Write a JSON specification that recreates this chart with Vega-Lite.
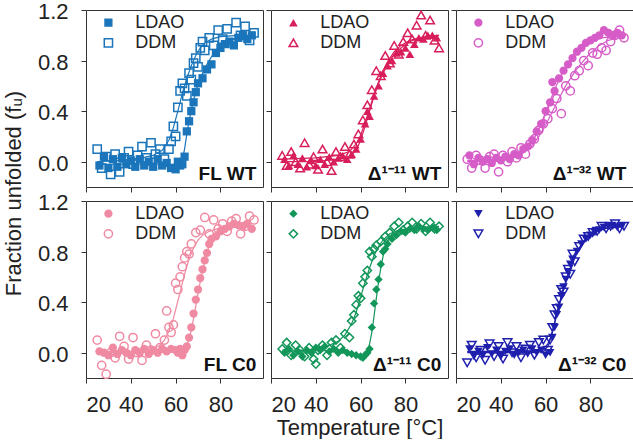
{
"$schema": "https://vega.github.io/schema/vega-lite/v6.json",
"background": "white",
"padding": {"left": 1, "top": 0, "right": 0, "bottom": 0},
"columns": 3,
"bounds": "flush",
"spacing": {"row": 14, "column": 8},
"config": {
  "view": {"stroke": "#333", "strokeWidth": 1},
  "axis": {"grid": false, "domain": false, "tickSize": 5, "tickColor": "#333", "tickWidth": 1, "labelFont": "Liberation Sans", "labelFontSize": 22, "labelColor": "#222", "titleFont": "Liberation Sans", "titleFontSize": 22, "titleFontWeight": "normal", "titleColor": "#222"},
  "axisX": {"labelPadding": 11, "titlePadding": 2},
  "axisY": {"labelPadding": 13, "titlePadding": 12, "labelOffset": 1.5}
},
"datasets": {
"pts": [
{"p":"A","d":"L","t":26,"f":-0.03},{"p":"A","d":"L","t":28,"f":0.04},{"p":"A","d":"L","t":30,"f":-0.05},{"p":"A","d":"L","t":32,"f":0.02},{"p":"A","d":"L","t":34,"f":-0.04},{"p":"A","d":"L","t":36,"f":0.03},{"p":"A","d":"L","t":38,"f":-0.02},{"p":"A","d":"L","t":40,"f":0.01},{"p":"A","d":"L","t":42,"f":-0.04},{"p":"A","d":"L","t":44,"f":0.02},{"p":"A","d":"L","t":46,"f":-0.03},{"p":"A","d":"L","t":48,"f":0.0},{"p":"A","d":"L","t":50,"f":-0.04},{"p":"A","d":"L","t":52,"f":0.02},{"p":"A","d":"L","t":54,"f":-0.03},{"p":"A","d":"L","t":56,"f":-0.01},{"p":"A","d":"L","t":58,"f":-0.05},{"p":"A","d":"L","t":60,"f":-0.06},{"p":"A","d":"L","t":61,"f":0.0},{"p":"A","d":"L","t":62,"f":-0.03},{"p":"A","d":"L","t":63,"f":-0.02},{"p":"A","d":"L","t":64,"f":0.04},{"p":"A","d":"L","t":65,"f":0.24},{"p":"A","d":"L","t":66,"f":0.32},{"p":"A","d":"L","t":67,"f":0.4},{"p":"A","d":"L","t":68,"f":0.47},{"p":"A","d":"L","t":69,"f":0.55},{"p":"A","d":"L","t":70,"f":0.62},{"p":"A","d":"L","t":72,"f":0.66},{"p":"A","d":"L","t":74,"f":0.73},{"p":"A","d":"L","t":76,"f":0.77},{"p":"A","d":"L","t":78,"f":0.86},{"p":"A","d":"L","t":80,"f":0.9},{"p":"A","d":"L","t":82,"f":0.93},{"p":"A","d":"L","t":84,"f":0.95},{"p":"A","d":"L","t":86,"f":0.92},{"p":"A","d":"L","t":88,"f":0.98},{"p":"A","d":"L","t":90,"f":1.0},{"p":"A","d":"L","t":92,"f":0.97},{"p":"A","d":"L","t":94,"f":1.0},
{"p":"A","d":"D","t":25,"f":0.1},{"p":"A","d":"D","t":27,"f":-0.05},{"p":"A","d":"D","t":29,"f":0.04},{"p":"A","d":"D","t":31,"f":-0.1},{"p":"A","d":"D","t":33,"f":0.06},{"p":"A","d":"D","t":35,"f":-0.08},{"p":"A","d":"D","t":37,"f":0.03},{"p":"A","d":"D","t":39,"f":0.08},{"p":"A","d":"D","t":41,"f":-0.02},{"p":"A","d":"D","t":43,"f":0.05},{"p":"A","d":"D","t":45,"f":0.12},{"p":"A","d":"D","t":47,"f":0.03},{"p":"A","d":"D","t":49,"f":0.15},{"p":"A","d":"D","t":51,"f":0.06},{"p":"A","d":"D","t":53,"f":0.1},{"p":"A","d":"D","t":55,"f":0.02},{"p":"A","d":"D","t":57,"f":0.1},{"p":"A","d":"D","t":58,"f":0.16},{"p":"A","d":"D","t":59,"f":0.28},{"p":"A","d":"D","t":60,"f":0.2},{"p":"A","d":"D","t":61,"f":0.43},{"p":"A","d":"D","t":62,"f":0.56},{"p":"A","d":"D","t":63,"f":0.62},{"p":"A","d":"D","t":64,"f":0.58},{"p":"A","d":"D","t":65,"f":0.52},{"p":"A","d":"D","t":66,"f":0.7},{"p":"A","d":"D","t":67,"f":0.65},{"p":"A","d":"D","t":68,"f":0.78},{"p":"A","d":"D","t":69,"f":0.82},{"p":"A","d":"D","t":70,"f":0.75},{"p":"A","d":"D","t":71,"f":0.9},{"p":"A","d":"D","t":72,"f":0.95},{"p":"A","d":"D","t":73,"f":0.88},{"p":"A","d":"D","t":75,"f":0.98},{"p":"A","d":"D","t":77,"f":0.92},{"p":"A","d":"D","t":79,"f":1.04},{"p":"A","d":"D","t":81,"f":0.97},{"p":"A","d":"D","t":83,"f":1.05},{"p":"A","d":"D","t":85,"f":0.94},{"p":"A","d":"D","t":87,"f":1.1},{"p":"A","d":"D","t":89,"f":1.0},{"p":"A","d":"D","t":91,"f":1.07},{"p":"A","d":"D","t":93,"f":0.96},{"p":"A","d":"D","t":95,"f":1.02},
{"p":"B","d":"L","t":26,"f":0.02},{"p":"B","d":"L","t":28,"f":-0.03},{"p":"B","d":"L","t":30,"f":0.05},{"p":"B","d":"L","t":32,"f":-0.02},{"p":"B","d":"L","t":34,"f":0.03},{"p":"B","d":"L","t":36,"f":-0.04},{"p":"B","d":"L","t":38,"f":0.01},{"p":"B","d":"L","t":40,"f":-0.03},{"p":"B","d":"L","t":42,"f":0.02},{"p":"B","d":"L","t":44,"f":-0.02},{"p":"B","d":"L","t":46,"f":0.04},{"p":"B","d":"L","t":48,"f":0.0},{"p":"B","d":"L","t":50,"f":0.03},{"p":"B","d":"L","t":52,"f":0.05},{"p":"B","d":"L","t":54,"f":0.02},{"p":"B","d":"L","t":56,"f":0.06},{"p":"B","d":"L","t":58,"f":0.1},{"p":"B","d":"L","t":60,"f":0.18},{"p":"B","d":"L","t":62,"f":0.3},{"p":"B","d":"L","t":63,"f":0.4},{"p":"B","d":"L","t":64,"f":0.36},{"p":"B","d":"L","t":66,"f":0.52},{"p":"B","d":"L","t":68,"f":0.6},{"p":"B","d":"L","t":70,"f":0.7},{"p":"B","d":"L","t":72,"f":0.76},{"p":"B","d":"L","t":74,"f":0.8},{"p":"B","d":"L","t":76,"f":0.86},{"p":"B","d":"L","t":78,"f":0.87},{"p":"B","d":"L","t":80,"f":0.9},{"p":"B","d":"L","t":82,"f":0.85},{"p":"B","d":"L","t":84,"f":0.93},{"p":"B","d":"L","t":86,"f":0.98},{"p":"B","d":"L","t":88,"f":0.97},{"p":"B","d":"L","t":90,"f":1.0},{"p":"B","d":"L","t":92,"f":1.0},{"p":"B","d":"L","t":94,"f":0.98},
{"p":"B","d":"D","t":25,"f":0.05},{"p":"B","d":"D","t":27,"f":-0.03},{"p":"B","d":"D","t":29,"f":0.08},{"p":"B","d":"D","t":31,"f":0.0},{"p":"B","d":"D","t":33,"f":-0.05},{"p":"B","d":"D","t":35,"f":0.15},{"p":"B","d":"D","t":37,"f":-0.02},{"p":"B","d":"D","t":39,"f":0.04},{"p":"B","d":"D","t":41,"f":-0.06},{"p":"B","d":"D","t":43,"f":0.1},{"p":"B","d":"D","t":45,"f":0.0},{"p":"B","d":"D","t":47,"f":-0.07},{"p":"B","d":"D","t":49,"f":0.08},{"p":"B","d":"D","t":51,"f":0.04},{"p":"B","d":"D","t":53,"f":0.12},{"p":"B","d":"D","t":55,"f":0.06},{"p":"B","d":"D","t":57,"f":0.14},{"p":"B","d":"D","t":59,"f":0.22},{"p":"B","d":"D","t":61,"f":0.33},{"p":"B","d":"D","t":63,"f":0.45},{"p":"B","d":"D","t":65,"f":0.57},{"p":"B","d":"D","t":67,"f":0.72},{"p":"B","d":"D","t":69,"f":0.68},{"p":"B","d":"D","t":71,"f":0.84},{"p":"B","d":"D","t":73,"f":0.78},{"p":"B","d":"D","t":75,"f":0.92},{"p":"B","d":"D","t":77,"f":0.85},{"p":"B","d":"D","t":79,"f":0.95},{"p":"B","d":"D","t":81,"f":1.02},{"p":"B","d":"D","t":83,"f":0.97},{"p":"B","d":"D","t":85,"f":1.08},{"p":"B","d":"D","t":87,"f":1.16},{"p":"B","d":"D","t":89,"f":1.0},{"p":"B","d":"D","t":91,"f":1.12},{"p":"B","d":"D","t":93,"f":0.96},{"p":"B","d":"D","t":95,"f":0.9},
{"p":"C","d":"L","t":26,"f":0.05},{"p":"C","d":"L","t":28,"f":-0.02},{"p":"C","d":"L","t":30,"f":0.03},{"p":"C","d":"L","t":32,"f":0.0},{"p":"C","d":"L","t":34,"f":0.02},{"p":"C","d":"L","t":36,"f":-0.01},{"p":"C","d":"L","t":38,"f":0.03},{"p":"C","d":"L","t":40,"f":0.01},{"p":"C","d":"L","t":42,"f":0.04},{"p":"C","d":"L","t":44,"f":0.02},{"p":"C","d":"L","t":46,"f":0.06},{"p":"C","d":"L","t":48,"f":0.05},{"p":"C","d":"L","t":50,"f":0.1},{"p":"C","d":"L","t":52,"f":0.12},{"p":"C","d":"L","t":54,"f":0.17},{"p":"C","d":"L","t":56,"f":0.24},{"p":"C","d":"L","t":58,"f":0.3},{"p":"C","d":"L","t":60,"f":0.4},{"p":"C","d":"L","t":62,"f":0.47},{"p":"C","d":"L","t":63,"f":0.63},{"p":"C","d":"L","t":64,"f":0.56},{"p":"C","d":"L","t":66,"f":0.66},{"p":"C","d":"L","t":68,"f":0.72},{"p":"C","d":"L","t":70,"f":0.77},{"p":"C","d":"L","t":72,"f":0.82},{"p":"C","d":"L","t":74,"f":0.87},{"p":"C","d":"L","t":76,"f":0.9},{"p":"C","d":"L","t":78,"f":0.94},{"p":"C","d":"L","t":80,"f":0.96},{"p":"C","d":"L","t":82,"f":0.98},{"p":"C","d":"L","t":84,"f":1.0},{"p":"C","d":"L","t":86,"f":1.04},{"p":"C","d":"L","t":88,"f":1.02},{"p":"C","d":"L","t":90,"f":1.0},{"p":"C","d":"L","t":92,"f":1.02},{"p":"C","d":"L","t":94,"f":1.0},
{"p":"C","d":"D","t":25,"f":0.02},{"p":"C","d":"D","t":27,"f":-0.05},{"p":"C","d":"D","t":29,"f":0.05},{"p":"C","d":"D","t":31,"f":0.01},{"p":"C","d":"D","t":33,"f":-0.05},{"p":"C","d":"D","t":35,"f":0.04},{"p":"C","d":"D","t":37,"f":0.06},{"p":"C","d":"D","t":39,"f":-0.08},{"p":"C","d":"D","t":41,"f":0.05},{"p":"C","d":"D","t":43,"f":0.0},{"p":"C","d":"D","t":45,"f":0.08},{"p":"C","d":"D","t":47,"f":0.03},{"p":"C","d":"D","t":49,"f":0.11},{"p":"C","d":"D","t":51,"f":0.06},{"p":"C","d":"D","t":53,"f":0.14},{"p":"C","d":"D","t":55,"f":0.18},{"p":"C","d":"D","t":57,"f":0.25},{"p":"C","d":"D","t":59,"f":0.3},{"p":"C","d":"D","t":61,"f":0.34},{"p":"C","d":"D","t":63,"f":0.42},{"p":"C","d":"D","t":65,"f":0.5},{"p":"C","d":"D","t":67,"f":0.38},{"p":"C","d":"D","t":69,"f":0.6},{"p":"C","d":"D","t":71,"f":0.56},{"p":"C","d":"D","t":73,"f":0.68},{"p":"C","d":"D","t":75,"f":0.72},{"p":"C","d":"D","t":77,"f":0.8},{"p":"C","d":"D","t":79,"f":0.76},{"p":"C","d":"D","t":81,"f":0.86},{"p":"C","d":"D","t":83,"f":0.85},{"p":"C","d":"D","t":85,"f":0.9},{"p":"C","d":"D","t":87,"f":0.88},{"p":"C","d":"D","t":89,"f":0.95},{"p":"C","d":"D","t":91,"f":1.0},{"p":"C","d":"D","t":93,"f":1.04},{"p":"C","d":"D","t":95,"f":0.98},
{"p":"D","d":"L","t":26,"f":0.01},{"p":"D","d":"L","t":28,"f":0.0},{"p":"D","d":"L","t":30,"f":-0.02},{"p":"D","d":"L","t":32,"f":0.04},{"p":"D","d":"L","t":34,"f":-0.01},{"p":"D","d":"L","t":36,"f":0.02},{"p":"D","d":"L","t":38,"f":0.0},{"p":"D","d":"L","t":40,"f":-0.02},{"p":"D","d":"L","t":42,"f":0.02},{"p":"D","d":"L","t":44,"f":0.0},{"p":"D","d":"L","t":46,"f":0.03},{"p":"D","d":"L","t":48,"f":-0.01},{"p":"D","d":"L","t":50,"f":0.02},{"p":"D","d":"L","t":52,"f":0.0},{"p":"D","d":"L","t":54,"f":0.03},{"p":"D","d":"L","t":56,"f":0.01},{"p":"D","d":"L","t":58,"f":0.03},{"p":"D","d":"L","t":60,"f":0.02},{"p":"D","d":"L","t":61,"f":0.0},{"p":"D","d":"L","t":62,"f":0.03},{"p":"D","d":"L","t":63,"f":-0.02},{"p":"D","d":"L","t":64,"f":0.02},{"p":"D","d":"L","t":65,"f":0.05},{"p":"D","d":"L","t":66,"f":0.12},{"p":"D","d":"L","t":67,"f":0.2},{"p":"D","d":"L","t":68,"f":0.31},{"p":"D","d":"L","t":69,"f":0.42},{"p":"D","d":"L","t":70,"f":0.5},{"p":"D","d":"L","t":71,"f":0.59},{"p":"D","d":"L","t":72,"f":0.66},{"p":"D","d":"L","t":73,"f":0.73},{"p":"D","d":"L","t":74,"f":0.79},{"p":"D","d":"L","t":75,"f":0.86},{"p":"D","d":"L","t":76,"f":0.9},{"p":"D","d":"L","t":78,"f":0.92},{"p":"D","d":"L","t":80,"f":0.96},{"p":"D","d":"L","t":82,"f":0.98},{"p":"D","d":"L","t":84,"f":1.0},{"p":"D","d":"L","t":86,"f":1.02},{"p":"D","d":"L","t":88,"f":1.01},{"p":"D","d":"L","t":90,"f":1.0},{"p":"D","d":"L","t":92,"f":1.02},{"p":"D","d":"L","t":94,"f":0.98},
{"p":"D","d":"D","t":25,"f":0.1},{"p":"D","d":"D","t":27,"f":-0.1},{"p":"D","d":"D","t":29,"f":-0.17},{"p":"D","d":"D","t":31,"f":0.0},{"p":"D","d":"D","t":33,"f":-0.04},{"p":"D","d":"D","t":35,"f":0.13},{"p":"D","d":"D","t":37,"f":0.05},{"p":"D","d":"D","t":39,"f":-0.05},{"p":"D","d":"D","t":41,"f":0.12},{"p":"D","d":"D","t":43,"f":0.0},{"p":"D","d":"D","t":45,"f":-0.06},{"p":"D","d":"D","t":47,"f":0.06},{"p":"D","d":"D","t":49,"f":0.02},{"p":"D","d":"D","t":51,"f":0.15},{"p":"D","d":"D","t":53,"f":0.04},{"p":"D","d":"D","t":55,"f":0.1},{"p":"D","d":"D","t":56,"f":0.33},{"p":"D","d":"D","t":57,"f":0.2},{"p":"D","d":"D","t":58,"f":0.16},{"p":"D","d":"D","t":59,"f":0.22},{"p":"D","d":"D","t":60,"f":0.55},{"p":"D","d":"D","t":61,"f":0.5},{"p":"D","d":"D","t":62,"f":0.6},{"p":"D","d":"D","t":63,"f":0.68},{"p":"D","d":"D","t":64,"f":0.75},{"p":"D","d":"D","t":65,"f":0.8},{"p":"D","d":"D","t":66,"f":0.78},{"p":"D","d":"D","t":67,"f":0.86},{"p":"D","d":"D","t":69,"f":0.95},{"p":"D","d":"D","t":71,"f":0.97},{"p":"D","d":"D","t":73,"f":1.07},{"p":"D","d":"D","t":75,"f":0.94},{"p":"D","d":"D","t":77,"f":1.05},{"p":"D","d":"D","t":79,"f":0.98},{"p":"D","d":"D","t":81,"f":1.02},{"p":"D","d":"D","t":83,"f":0.96},{"p":"D","d":"D","t":85,"f":1.04},{"p":"D","d":"D","t":87,"f":1.06},{"p":"D","d":"D","t":89,"f":0.94},{"p":"D","d":"D","t":91,"f":1.0},{"p":"D","d":"D","t":93,"f":1.08},{"p":"D","d":"D","t":95,"f":1.05},
{"p":"E","d":"L","t":26,"f":0.0},{"p":"E","d":"L","t":28,"f":0.03},{"p":"E","d":"L","t":30,"f":-0.02},{"p":"E","d":"L","t":32,"f":0.01},{"p":"E","d":"L","t":34,"f":-0.03},{"p":"E","d":"L","t":36,"f":0.02},{"p":"E","d":"L","t":38,"f":0.0},{"p":"E","d":"L","t":40,"f":0.04},{"p":"E","d":"L","t":42,"f":0.02},{"p":"E","d":"L","t":44,"f":0.05},{"p":"E","d":"L","t":46,"f":0.01},{"p":"E","d":"L","t":48,"f":0.03},{"p":"E","d":"L","t":50,"f":0.0},{"p":"E","d":"L","t":52,"f":0.02},{"p":"E","d":"L","t":54,"f":0.0},{"p":"E","d":"L","t":56,"f":-0.01},{"p":"E","d":"L","t":58,"f":-0.02},{"p":"E","d":"L","t":60,"f":-0.03},{"p":"E","d":"L","t":61,"f":-0.04},{"p":"E","d":"L","t":62,"f":-0.02},{"p":"E","d":"L","t":63,"f":0.0},{"p":"E","d":"L","t":64,"f":0.03},{"p":"E","d":"L","t":65,"f":0.2},{"p":"E","d":"L","t":66,"f":0.39},{"p":"E","d":"L","t":67,"f":0.5},{"p":"E","d":"L","t":68,"f":0.58},{"p":"E","d":"L","t":69,"f":0.7},{"p":"E","d":"L","t":70,"f":0.8},{"p":"E","d":"L","t":71,"f":0.82},{"p":"E","d":"L","t":72,"f":0.86},{"p":"E","d":"L","t":74,"f":0.9},{"p":"E","d":"L","t":76,"f":0.93},{"p":"E","d":"L","t":78,"f":0.96},{"p":"E","d":"L","t":80,"f":0.95},{"p":"E","d":"L","t":82,"f":0.98},{"p":"E","d":"L","t":84,"f":0.97},{"p":"E","d":"L","t":86,"f":1.0},{"p":"E","d":"L","t":88,"f":0.98},{"p":"E","d":"L","t":90,"f":0.97},{"p":"E","d":"L","t":92,"f":0.99},{"p":"E","d":"L","t":94,"f":0.97},
{"p":"E","d":"D","t":25,"f":0.03},{"p":"E","d":"D","t":27,"f":0.08},{"p":"E","d":"D","t":29,"f":-0.02},{"p":"E","d":"D","t":31,"f":0.06},{"p":"E","d":"D","t":33,"f":0.02},{"p":"E","d":"D","t":35,"f":-0.03},{"p":"E","d":"D","t":37,"f":0.04},{"p":"E","d":"D","t":39,"f":-0.05},{"p":"E","d":"D","t":40,"f":-0.09},{"p":"E","d":"D","t":41,"f":0.02},{"p":"E","d":"D","t":43,"f":0.06},{"p":"E","d":"D","t":45,"f":-0.02},{"p":"E","d":"D","t":47,"f":0.08},{"p":"E","d":"D","t":49,"f":0.1},{"p":"E","d":"D","t":51,"f":0.04},{"p":"E","d":"D","t":53,"f":0.15},{"p":"E","d":"D","t":55,"f":0.12},{"p":"E","d":"D","t":56,"f":0.25},{"p":"E","d":"D","t":57,"f":0.3},{"p":"E","d":"D","t":58,"f":0.38},{"p":"E","d":"D","t":59,"f":0.45},{"p":"E","d":"D","t":60,"f":0.43},{"p":"E","d":"D","t":61,"f":0.55},{"p":"E","d":"D","t":62,"f":0.6},{"p":"E","d":"D","t":63,"f":0.65},{"p":"E","d":"D","t":64,"f":0.8},{"p":"E","d":"D","t":65,"f":0.76},{"p":"E","d":"D","t":66,"f":0.82},{"p":"E","d":"D","t":67,"f":0.85},{"p":"E","d":"D","t":69,"f":0.88},{"p":"E","d":"D","t":71,"f":0.92},{"p":"E","d":"D","t":73,"f":0.95},{"p":"E","d":"D","t":75,"f":1.0},{"p":"E","d":"D","t":77,"f":1.03},{"p":"E","d":"D","t":79,"f":0.97},{"p":"E","d":"D","t":81,"f":1.0},{"p":"E","d":"D","t":83,"f":1.03},{"p":"E","d":"D","t":85,"f":0.98},{"p":"E","d":"D","t":87,"f":1.02},{"p":"E","d":"D","t":89,"f":0.96},{"p":"E","d":"D","t":91,"f":1.03},{"p":"E","d":"D","t":93,"f":0.98},{"p":"E","d":"D","t":95,"f":1.0},
{"p":"F","d":"L","t":26,"f":0.03},{"p":"F","d":"L","t":28,"f":-0.03},{"p":"F","d":"L","t":30,"f":0.01},{"p":"F","d":"L","t":32,"f":-0.02},{"p":"F","d":"L","t":34,"f":0.04},{"p":"F","d":"L","t":36,"f":-0.01},{"p":"F","d":"L","t":38,"f":0.02},{"p":"F","d":"L","t":40,"f":-0.03},{"p":"F","d":"L","t":42,"f":0.01},{"p":"F","d":"L","t":44,"f":0.03},{"p":"F","d":"L","t":46,"f":-0.02},{"p":"F","d":"L","t":48,"f":0.0},{"p":"F","d":"L","t":50,"f":0.02},{"p":"F","d":"L","t":52,"f":-0.01},{"p":"F","d":"L","t":54,"f":0.03},{"p":"F","d":"L","t":56,"f":0.0},{"p":"F","d":"L","t":58,"f":0.02},{"p":"F","d":"L","t":60,"f":-0.02},{"p":"F","d":"L","t":62,"f":0.0},{"p":"F","d":"L","t":63,"f":0.12},{"p":"F","d":"L","t":64,"f":0.2},{"p":"F","d":"L","t":65,"f":0.3},{"p":"F","d":"L","t":66,"f":0.36},{"p":"F","d":"L","t":67,"f":0.45},{"p":"F","d":"L","t":68,"f":0.52},{"p":"F","d":"L","t":69,"f":0.58},{"p":"F","d":"L","t":70,"f":0.64},{"p":"F","d":"L","t":71,"f":0.7},{"p":"F","d":"L","t":72,"f":0.74},{"p":"F","d":"L","t":74,"f":0.8},{"p":"F","d":"L","t":76,"f":0.86},{"p":"F","d":"L","t":78,"f":0.9},{"p":"F","d":"L","t":80,"f":0.93},{"p":"F","d":"L","t":82,"f":0.95},{"p":"F","d":"L","t":84,"f":0.97},{"p":"F","d":"L","t":86,"f":0.99},{"p":"F","d":"L","t":88,"f":1.0},{"p":"F","d":"L","t":90,"f":1.0},{"p":"F","d":"L","t":92,"f":0.99},{"p":"F","d":"L","t":94,"f":1.0},
{"p":"F","d":"D","t":25,"f":-0.08},{"p":"F","d":"D","t":27,"f":0.06},{"p":"F","d":"D","t":29,"f":-0.04},{"p":"F","d":"D","t":31,"f":0.02},{"p":"F","d":"D","t":33,"f":-0.06},{"p":"F","d":"D","t":35,"f":0.07},{"p":"F","d":"D","t":37,"f":-0.03},{"p":"F","d":"D","t":39,"f":0.05},{"p":"F","d":"D","t":41,"f":-0.05},{"p":"F","d":"D","t":43,"f":0.08},{"p":"F","d":"D","t":45,"f":0.0},{"p":"F","d":"D","t":47,"f":0.05},{"p":"F","d":"D","t":49,"f":-0.04},{"p":"F","d":"D","t":51,"f":0.03},{"p":"F","d":"D","t":53,"f":0.06},{"p":"F","d":"D","t":55,"f":-0.02},{"p":"F","d":"D","t":57,"f":0.08},{"p":"F","d":"D","t":59,"f":0.1},{"p":"F","d":"D","t":61,"f":0.02},{"p":"F","d":"D","t":62,"f":0.1},{"p":"F","d":"D","t":63,"f":0.2},{"p":"F","d":"D","t":64,"f":0.3},{"p":"F","d":"D","t":65,"f":0.35},{"p":"F","d":"D","t":66,"f":0.42},{"p":"F","d":"D","t":67,"f":0.5},{"p":"F","d":"D","t":68,"f":0.48},{"p":"F","d":"D","t":69,"f":0.6},{"p":"F","d":"D","t":70,"f":0.66},{"p":"F","d":"D","t":71,"f":0.62},{"p":"F","d":"D","t":72,"f":0.78},{"p":"F","d":"D","t":73,"f":0.72},{"p":"F","d":"D","t":75,"f":0.84},{"p":"F","d":"D","t":77,"f":0.9},{"p":"F","d":"D","t":79,"f":0.92},{"p":"F","d":"D","t":81,"f":0.95},{"p":"F","d":"D","t":83,"f":0.96},{"p":"F","d":"D","t":85,"f":1.0},{"p":"F","d":"D","t":87,"f":0.98},{"p":"F","d":"D","t":89,"f":1.0},{"p":"F","d":"D","t":91,"f":1.02},{"p":"F","d":"D","t":93,"f":0.98},{"p":"F","d":"D","t":95,"f":1.0}
],
"fit": [
{"p":"A","d":"L","t":25,"f":-0.02},{"p":"A","d":"L","t":35,"f":-0.02},{"p":"A","d":"L","t":45,"f":-0.02},{"p":"A","d":"L","t":55,"f":-0.02},{"p":"A","d":"L","t":60,"f":-0.02},{"p":"A","d":"L","t":62,"f":-0.01},{"p":"A","d":"L","t":63,"f":0.02},{"p":"A","d":"L","t":64,"f":0.1},{"p":"A","d":"L","t":65,"f":0.22},{"p":"A","d":"L","t":66,"f":0.32},{"p":"A","d":"L","t":67,"f":0.41},{"p":"A","d":"L","t":68,"f":0.49},{"p":"A","d":"L","t":70,"f":0.61},{"p":"A","d":"L","t":72,"f":0.7},{"p":"A","d":"L","t":74,"f":0.77},{"p":"A","d":"L","t":76,"f":0.83},{"p":"A","d":"L","t":78,"f":0.88},{"p":"A","d":"L","t":80,"f":0.92},{"p":"A","d":"L","t":84,"f":0.96},{"p":"A","d":"L","t":88,"f":0.98},{"p":"A","d":"L","t":95,"f":1.0},
{"p":"A","d":"D","t":25,"f":0.0},{"p":"A","d":"D","t":35,"f":0.01},{"p":"A","d":"D","t":45,"f":0.03},{"p":"A","d":"D","t":50,"f":0.05},{"p":"A","d":"D","t":54,"f":0.09},{"p":"A","d":"D","t":57,"f":0.17},{"p":"A","d":"D","t":59,"f":0.27},{"p":"A","d":"D","t":61,"f":0.4},{"p":"A","d":"D","t":63,"f":0.54},{"p":"A","d":"D","t":65,"f":0.66},{"p":"A","d":"D","t":67,"f":0.76},{"p":"A","d":"D","t":69,"f":0.84},{"p":"A","d":"D","t":71,"f":0.9},{"p":"A","d":"D","t":73,"f":0.94},{"p":"A","d":"D","t":76,"f":0.97},{"p":"A","d":"D","t":80,"f":0.99},{"p":"A","d":"D","t":88,"f":1.0},{"p":"A","d":"D","t":95,"f":1.0},
{"p":"B","d":"L","t":25,"f":0.0},{"p":"B","d":"L","t":40,"f":0.0},{"p":"B","d":"L","t":50,"f":0.02},{"p":"B","d":"L","t":55,"f":0.04},{"p":"B","d":"L","t":58,"f":0.09},{"p":"B","d":"L","t":60,"f":0.17},{"p":"B","d":"L","t":62,"f":0.28},{"p":"B","d":"L","t":64,"f":0.4},{"p":"B","d":"L","t":66,"f":0.52},{"p":"B","d":"L","t":68,"f":0.62},{"p":"B","d":"L","t":70,"f":0.7},{"p":"B","d":"L","t":72,"f":0.77},{"p":"B","d":"L","t":75,"f":0.85},{"p":"B","d":"L","t":78,"f":0.9},{"p":"B","d":"L","t":82,"f":0.95},{"p":"B","d":"L","t":86,"f":0.98},{"p":"B","d":"L","t":90,"f":0.99},{"p":"B","d":"L","t":95,"f":1.0},
{"p":"B","d":"D","t":25,"f":0.02},{"p":"B","d":"D","t":40,"f":0.03},{"p":"B","d":"D","t":50,"f":0.05},{"p":"B","d":"D","t":55,"f":0.08},{"p":"B","d":"D","t":58,"f":0.14},{"p":"B","d":"D","t":60,"f":0.21},{"p":"B","d":"D","t":62,"f":0.31},{"p":"B","d":"D","t":64,"f":0.42},{"p":"B","d":"D","t":66,"f":0.53},{"p":"B","d":"D","t":68,"f":0.63},{"p":"B","d":"D","t":70,"f":0.72},{"p":"B","d":"D","t":72,"f":0.79},{"p":"B","d":"D","t":75,"f":0.87},{"p":"B","d":"D","t":78,"f":0.92},{"p":"B","d":"D","t":82,"f":0.96},{"p":"B","d":"D","t":86,"f":0.98},{"p":"B","d":"D","t":90,"f":0.99},{"p":"B","d":"D","t":95,"f":1.0},
{"p":"C","d":"L","t":25,"f":0.01},{"p":"C","d":"L","t":35,"f":0.01},{"p":"C","d":"L","t":40,"f":0.02},{"p":"C","d":"L","t":45,"f":0.04},{"p":"C","d":"L","t":50,"f":0.08},{"p":"C","d":"L","t":53,"f":0.13},{"p":"C","d":"L","t":56,"f":0.22},{"p":"C","d":"L","t":58,"f":0.3},{"p":"C","d":"L","t":60,"f":0.39},{"p":"C","d":"L","t":62,"f":0.48},{"p":"C","d":"L","t":64,"f":0.57},{"p":"C","d":"L","t":66,"f":0.65},{"p":"C","d":"L","t":68,"f":0.72},{"p":"C","d":"L","t":70,"f":0.78},{"p":"C","d":"L","t":73,"f":0.86},{"p":"C","d":"L","t":76,"f":0.91},{"p":"C","d":"L","t":80,"f":0.95},{"p":"C","d":"L","t":85,"f":0.98},{"p":"C","d":"L","t":90,"f":0.99},{"p":"C","d":"L","t":95,"f":1.0},
{"p":"C","d":"D","t":25,"f":0.0},{"p":"C","d":"D","t":35,"f":0.01},{"p":"C","d":"D","t":40,"f":0.02},{"p":"C","d":"D","t":45,"f":0.04},{"p":"C","d":"D","t":50,"f":0.07},{"p":"C","d":"D","t":54,"f":0.13},{"p":"C","d":"D","t":57,"f":0.2},{"p":"C","d":"D","t":60,"f":0.29},{"p":"C","d":"D","t":62,"f":0.36},{"p":"C","d":"D","t":64,"f":0.43},{"p":"C","d":"D","t":66,"f":0.5},{"p":"C","d":"D","t":68,"f":0.57},{"p":"C","d":"D","t":70,"f":0.63},{"p":"C","d":"D","t":73,"f":0.71},{"p":"C","d":"D","t":76,"f":0.78},{"p":"C","d":"D","t":80,"f":0.86},{"p":"C","d":"D","t":84,"f":0.92},{"p":"C","d":"D","t":88,"f":0.96},{"p":"C","d":"D","t":92,"f":0.98},{"p":"C","d":"D","t":95,"f":0.99},
{"p":"D","d":"L","t":25,"f":0.01},{"p":"D","d":"L","t":35,"f":0.01},{"p":"D","d":"L","t":45,"f":0.01},{"p":"D","d":"L","t":55,"f":0.01},{"p":"D","d":"L","t":60,"f":0.01},{"p":"D","d":"L","t":63,"f":0.02},{"p":"D","d":"L","t":64,"f":0.03},{"p":"D","d":"L","t":65,"f":0.06},{"p":"D","d":"L","t":66,"f":0.11},{"p":"D","d":"L","t":67,"f":0.18},{"p":"D","d":"L","t":68,"f":0.27},{"p":"D","d":"L","t":69,"f":0.37},{"p":"D","d":"L","t":70,"f":0.47},{"p":"D","d":"L","t":71,"f":0.56},{"p":"D","d":"L","t":72,"f":0.65},{"p":"D","d":"L","t":73,"f":0.72},{"p":"D","d":"L","t":74,"f":0.79},{"p":"D","d":"L","t":75,"f":0.85},{"p":"D","d":"L","t":76,"f":0.89},{"p":"D","d":"L","t":78,"f":0.94},{"p":"D","d":"L","t":80,"f":0.97},{"p":"D","d":"L","t":85,"f":0.99},{"p":"D","d":"L","t":95,"f":1.0},
{"p":"D","d":"D","t":25,"f":0.0},{"p":"D","d":"D","t":40,"f":0.0},{"p":"D","d":"D","t":45,"f":0.01},{"p":"D","d":"D","t":50,"f":0.03},{"p":"D","d":"D","t":53,"f":0.06},{"p":"D","d":"D","t":55,"f":0.1},{"p":"D","d":"D","t":57,"f":0.17},{"p":"D","d":"D","t":59,"f":0.27},{"p":"D","d":"D","t":60,"f":0.34},{"p":"D","d":"D","t":62,"f":0.48},{"p":"D","d":"D","t":64,"f":0.62},{"p":"D","d":"D","t":66,"f":0.74},{"p":"D","d":"D","t":68,"f":0.83},{"p":"D","d":"D","t":70,"f":0.89},{"p":"D","d":"D","t":72,"f":0.93},{"p":"D","d":"D","t":75,"f":0.96},{"p":"D","d":"D","t":80,"f":0.99},{"p":"D","d":"D","t":95,"f":1.0},
{"p":"E","d":"L","t":25,"f":0.01},{"p":"E","d":"L","t":40,"f":0.02},{"p":"E","d":"L","t":50,"f":0.01},{"p":"E","d":"L","t":55,"f":0.0},{"p":"E","d":"L","t":58,"f":-0.02},{"p":"E","d":"L","t":60,"f":-0.03},{"p":"E","d":"L","t":62,"f":-0.02},{"p":"E","d":"L","t":63,"f":0.01},{"p":"E","d":"L","t":64,"f":0.07},{"p":"E","d":"L","t":65,"f":0.16},{"p":"E","d":"L","t":66,"f":0.29},{"p":"E","d":"L","t":67,"f":0.43},{"p":"E","d":"L","t":68,"f":0.56},{"p":"E","d":"L","t":69,"f":0.67},{"p":"E","d":"L","t":70,"f":0.76},{"p":"E","d":"L","t":71,"f":0.83},{"p":"E","d":"L","t":72,"f":0.88},{"p":"E","d":"L","t":74,"f":0.93},{"p":"E","d":"L","t":77,"f":0.96},{"p":"E","d":"L","t":82,"f":0.98},{"p":"E","d":"L","t":90,"f":0.98},{"p":"E","d":"L","t":95,"f":0.98},
{"p":"E","d":"D","t":25,"f":0.02},{"p":"E","d":"D","t":35,"f":0.02},{"p":"E","d":"D","t":40,"f":0.03},{"p":"E","d":"D","t":45,"f":0.05},{"p":"E","d":"D","t":50,"f":0.09},{"p":"E","d":"D","t":53,"f":0.14},{"p":"E","d":"D","t":56,"f":0.23},{"p":"E","d":"D","t":58,"f":0.32},{"p":"E","d":"D","t":60,"f":0.44},{"p":"E","d":"D","t":62,"f":0.56},{"p":"E","d":"D","t":64,"f":0.67},{"p":"E","d":"D","t":66,"f":0.77},{"p":"E","d":"D","t":68,"f":0.84},{"p":"E","d":"D","t":70,"f":0.89},{"p":"E","d":"D","t":73,"f":0.94},{"p":"E","d":"D","t":77,"f":0.97},{"p":"E","d":"D","t":85,"f":0.99},{"p":"E","d":"D","t":95,"f":1.0},
{"p":"F","d":"L","t":25,"f":0.0},{"p":"F","d":"L","t":45,"f":0.0},{"p":"F","d":"L","t":55,"f":0.0},{"p":"F","d":"L","t":59,"f":0.01},{"p":"F","d":"L","t":61,"f":0.05},{"p":"F","d":"L","t":62,"f":0.1},{"p":"F","d":"L","t":63,"f":0.16},{"p":"F","d":"L","t":64,"f":0.23},{"p":"F","d":"L","t":66,"f":0.37},{"p":"F","d":"L","t":68,"f":0.5},{"p":"F","d":"L","t":70,"f":0.61},{"p":"F","d":"L","t":72,"f":0.71},{"p":"F","d":"L","t":74,"f":0.79},{"p":"F","d":"L","t":76,"f":0.85},{"p":"F","d":"L","t":78,"f":0.9},{"p":"F","d":"L","t":80,"f":0.93},{"p":"F","d":"L","t":84,"f":0.97},{"p":"F","d":"L","t":88,"f":0.99},{"p":"F","d":"L","t":95,"f":1.0},
{"p":"F","d":"D","t":25,"f":0.01},{"p":"F","d":"D","t":45,"f":0.01},{"p":"F","d":"D","t":55,"f":0.01},{"p":"F","d":"D","t":59,"f":0.03},{"p":"F","d":"D","t":61,"f":0.07},{"p":"F","d":"D","t":62,"f":0.11},{"p":"F","d":"D","t":63,"f":0.17},{"p":"F","d":"D","t":64,"f":0.24},{"p":"F","d":"D","t":66,"f":0.38},{"p":"F","d":"D","t":68,"f":0.51},{"p":"F","d":"D","t":70,"f":0.62},{"p":"F","d":"D","t":72,"f":0.72},{"p":"F","d":"D","t":74,"f":0.8},{"p":"F","d":"D","t":76,"f":0.86},{"p":"F","d":"D","t":78,"f":0.9},{"p":"F","d":"D","t":80,"f":0.93},{"p":"F","d":"D","t":84,"f":0.97},{"p":"F","d":"D","t":88,"f":0.99},{"p":"F","d":"D","t":95,"f":1.0}
]
},
"concat": [
 {"width": 177, "height": 177, "data": {"name": "pts"},
  "encoding": {
   "x": {"field": "t", "type": "quantitative", "scale": {"domain": [20, 99], "nice": false, "zero": false}, "axis": {"values": [20, 40, 60, 80], "labels": false, "title": null}},
   "y": {"field": "f", "type": "quantitative", "scale": {"domain": [-0.2, 1.2], "nice": false, "zero": false}, "axis": {"values": [0, 0.4, 0.8, 1.2], "format": ".1f", "title": "Fraction unfolded (fᵤ)", "titleY": 183}}
  },
  "layer": [
   {"transform": [{"filter": "datum.p==='A' && datum.d==='D'"}], "mark": {"type": "point", "shape": "square", "filled": false, "color": "#1a75bb", "size": 68, "strokeWidth": 1.5, "opacity": 1}},
   {"transform": [{"filter": "datum.p==='A' && datum.d==='L'"}], "mark": {"type": "point", "shape": "square", "filled": true, "color": "#1a75bb", "size": 68, "opacity": 1}},
   {"data": {"name": "fit"}, "transform": [{"filter": "datum.p==='A'"}], "mark": {"type": "line", "color": "#1a75bb", "strokeWidth": 1.2}, "encoding": {"detail": {"field": "d"}}},
   {"transform": [{"filter": "datum.p==='A' && datum.d==='L' && datum.t===26"}], "mark": {"type": "point", "shape": "square", "filled": true, "color": "#1a75bb", "size": 68, "opacity": 1}, "encoding": {"x": {"datum": 30}, "y": {"datum": 1.1}}},
   {"transform": [{"filter": "datum.p==='A' && datum.d==='L' && datum.t===26"}], "mark": {"type": "point", "shape": "square", "filled": false, "color": "#1a75bb", "size": 68, "strokeWidth": 1.5, "opacity": 1}, "encoding": {"x": {"datum": 30}, "y": {"datum": 0.94}}},
   {"transform": [{"filter": "datum.p==='A' && datum.d==='L' && datum.t===26"}], "mark": {"type": "text", "text": "LDAO", "align": "left", "baseline": "middle", "font": "Liberation Sans", "fontSize": 18, "color": "#222"}, "encoding": {"x": {"datum": 42}, "y": {"datum": 1.1}}},
   {"transform": [{"filter": "datum.p==='A' && datum.d==='L' && datum.t===26"}], "mark": {"type": "text", "text": "DDM", "align": "left", "baseline": "middle", "font": "Liberation Sans", "fontSize": 18, "color": "#222"}, "encoding": {"x": {"datum": 42}, "y": {"datum": 0.94}}},
   {"transform": [{"filter": "datum.p==='A' && datum.d==='L' && datum.t===26"}], "mark": {"type": "text", "text": "FL WT", "align": "right", "baseline": "alphabetic", "font": "Liberation Sans", "fontSize": 19, "fontWeight": "bold", "color": "#111"}, "encoding": {"x": {"datum": 96}, "y": {"datum": -0.145}}}
  ]},
 {"width": 177, "height": 177, "data": {"name": "pts"},
  "encoding": {
   "x": {"field": "t", "type": "quantitative", "scale": {"domain": [20, 99], "nice": false, "zero": false}, "axis": {"values": [20, 40, 60, 80], "labels": false, "title": null}},
   "y": {"field": "f", "type": "quantitative", "scale": {"domain": [-0.2, 1.2], "nice": false, "zero": false}, "axis": {"values": [0, 0.4, 0.8, 1.2], "labels": false, "title": null}}
  },
  "layer": [
   {"transform": [{"filter": "datum.p==='B' && datum.d==='D'"}], "mark": {"type": "point", "shape": "triangle-up", "filled": false, "color": "#d81e5b", "size": 75, "strokeWidth": 1.5, "opacity": 1}},
   {"transform": [{"filter": "datum.p==='B' && datum.d==='L'"}], "mark": {"type": "point", "shape": "triangle-up", "filled": true, "color": "#d81e5b", "size": 75, "opacity": 1}},
   {"data": {"name": "fit"}, "transform": [{"filter": "datum.p==='B'"}], "mark": {"type": "line", "color": "#d81e5b", "strokeWidth": 1.2}, "encoding": {"detail": {"field": "d"}}},
   {"transform": [{"filter": "datum.p==='B' && datum.d==='L' && datum.t===26"}], "mark": {"type": "point", "shape": "triangle-up", "filled": true, "color": "#d81e5b", "size": 75, "opacity": 1}, "encoding": {"x": {"datum": 30}, "y": {"datum": 1.1}}},
   {"transform": [{"filter": "datum.p==='B' && datum.d==='L' && datum.t===26"}], "mark": {"type": "point", "shape": "triangle-up", "filled": false, "color": "#d81e5b", "size": 75, "strokeWidth": 1.5, "opacity": 1}, "encoding": {"x": {"datum": 30}, "y": {"datum": 0.94}}},
   {"transform": [{"filter": "datum.p==='B' && datum.d==='L' && datum.t===26"}], "mark": {"type": "text", "text": "LDAO", "align": "left", "baseline": "middle", "font": "Liberation Sans", "fontSize": 18, "color": "#222"}, "encoding": {"x": {"datum": 42}, "y": {"datum": 1.1}}},
   {"transform": [{"filter": "datum.p==='B' && datum.d==='L' && datum.t===26"}], "mark": {"type": "text", "text": "DDM", "align": "left", "baseline": "middle", "font": "Liberation Sans", "fontSize": 18, "color": "#222"}, "encoding": {"x": {"datum": 42}, "y": {"datum": 0.94}}},
   {"transform": [{"filter": "datum.p==='B' && datum.d==='L' && datum.t===26"}], "mark": {"type": "text", "text": "Δ¹⁻¹¹ WT", "align": "right", "baseline": "alphabetic", "font": "Liberation Sans", "fontSize": 19, "fontWeight": "bold", "color": "#111"}, "encoding": {"x": {"datum": 96}, "y": {"datum": -0.145}}}
  ]},
 {"width": 177, "height": 177, "data": {"name": "pts"},
  "encoding": {
   "x": {"field": "t", "type": "quantitative", "scale": {"domain": [20, 99], "nice": false, "zero": false}, "axis": {"values": [20, 40, 60, 80], "labels": false, "title": null}},
   "y": {"field": "f", "type": "quantitative", "scale": {"domain": [-0.2, 1.2], "nice": false, "zero": false}, "axis": {"values": [0, 0.4, 0.8, 1.2], "labels": false, "title": null}}
  },
  "layer": [
   {"transform": [{"filter": "datum.p==='C' && datum.d==='D'"}], "mark": {"type": "point", "shape": "circle", "filled": false, "color": "#d65cc8", "size": 68, "strokeWidth": 1.5, "opacity": 1}},
   {"transform": [{"filter": "datum.p==='C' && datum.d==='L'"}], "mark": {"type": "point", "shape": "circle", "filled": true, "color": "#d65cc8", "size": 68, "opacity": 1}},
   {"data": {"name": "fit"}, "transform": [{"filter": "datum.p==='C'"}], "mark": {"type": "line", "color": "#d65cc8", "strokeWidth": 1.2}, "encoding": {"detail": {"field": "d"}}},
   {"transform": [{"filter": "datum.p==='C' && datum.d==='L' && datum.t===26"}], "mark": {"type": "point", "shape": "circle", "filled": true, "color": "#d65cc8", "size": 68, "opacity": 1}, "encoding": {"x": {"datum": 30}, "y": {"datum": 1.1}}},
   {"transform": [{"filter": "datum.p==='C' && datum.d==='L' && datum.t===26"}], "mark": {"type": "point", "shape": "circle", "filled": false, "color": "#d65cc8", "size": 68, "strokeWidth": 1.5, "opacity": 1}, "encoding": {"x": {"datum": 30}, "y": {"datum": 0.94}}},
   {"transform": [{"filter": "datum.p==='C' && datum.d==='L' && datum.t===26"}], "mark": {"type": "text", "text": "LDAO", "align": "left", "baseline": "middle", "font": "Liberation Sans", "fontSize": 18, "color": "#222"}, "encoding": {"x": {"datum": 42}, "y": {"datum": 1.1}}},
   {"transform": [{"filter": "datum.p==='C' && datum.d==='L' && datum.t===26"}], "mark": {"type": "text", "text": "DDM", "align": "left", "baseline": "middle", "font": "Liberation Sans", "fontSize": 18, "color": "#222"}, "encoding": {"x": {"datum": 42}, "y": {"datum": 0.94}}},
   {"transform": [{"filter": "datum.p==='C' && datum.d==='L' && datum.t===26"}], "mark": {"type": "text", "text": "Δ¹⁻³² WT", "align": "right", "baseline": "alphabetic", "font": "Liberation Sans", "fontSize": 19, "fontWeight": "bold", "color": "#111"}, "encoding": {"x": {"datum": 96}, "y": {"datum": -0.145}}}
  ]},
 {"width": 177, "height": 177, "data": {"name": "pts"},
  "encoding": {
   "x": {"field": "t", "type": "quantitative", "scale": {"domain": [20, 99], "nice": false, "zero": false}, "axis": {"values": [20, 40, 60, 80], "title": null}},
   "y": {"field": "f", "type": "quantitative", "scale": {"domain": [-0.2, 1.2], "nice": false, "zero": false}, "axis": {"values": [0, 0.4, 0.8, 1.2], "format": ".1f", "title": null}}
  },
  "layer": [
   {"transform": [{"filter": "datum.p==='D' && datum.d==='D'"}], "mark": {"type": "point", "shape": "circle", "filled": false, "color": "#f08aa2", "size": 68, "strokeWidth": 1.5, "opacity": 1}},
   {"transform": [{"filter": "datum.p==='D' && datum.d==='L'"}], "mark": {"type": "point", "shape": "circle", "filled": true, "color": "#f08aa2", "size": 68, "opacity": 1}},
   {"data": {"name": "fit"}, "transform": [{"filter": "datum.p==='D'"}], "mark": {"type": "line", "color": "#f08aa2", "strokeWidth": 1.2}, "encoding": {"detail": {"field": "d"}}},
   {"transform": [{"filter": "datum.p==='D' && datum.d==='L' && datum.t===26"}], "mark": {"type": "point", "shape": "circle", "filled": true, "color": "#f08aa2", "size": 68, "opacity": 1}, "encoding": {"x": {"datum": 30}, "y": {"datum": 1.1}}},
   {"transform": [{"filter": "datum.p==='D' && datum.d==='L' && datum.t===26"}], "mark": {"type": "point", "shape": "circle", "filled": false, "color": "#f08aa2", "size": 68, "strokeWidth": 1.5, "opacity": 1}, "encoding": {"x": {"datum": 30}, "y": {"datum": 0.94}}},
   {"transform": [{"filter": "datum.p==='D' && datum.d==='L' && datum.t===26"}], "mark": {"type": "text", "text": "LDAO", "align": "left", "baseline": "middle", "font": "Liberation Sans", "fontSize": 18, "color": "#222"}, "encoding": {"x": {"datum": 42}, "y": {"datum": 1.1}}},
   {"transform": [{"filter": "datum.p==='D' && datum.d==='L' && datum.t===26"}], "mark": {"type": "text", "text": "DDM", "align": "left", "baseline": "middle", "font": "Liberation Sans", "fontSize": 18, "color": "#222"}, "encoding": {"x": {"datum": 42}, "y": {"datum": 0.94}}},
   {"transform": [{"filter": "datum.p==='D' && datum.d==='L' && datum.t===26"}], "mark": {"type": "text", "text": "FL C0", "align": "right", "baseline": "alphabetic", "font": "Liberation Sans", "fontSize": 19, "fontWeight": "bold", "color": "#111"}, "encoding": {"x": {"datum": 96}, "y": {"datum": -0.145}}}
  ]},
 {"width": 177, "height": 177, "data": {"name": "pts"},
  "encoding": {
   "x": {"field": "t", "type": "quantitative", "scale": {"domain": [20, 99], "nice": false, "zero": false}, "axis": {"values": [20, 40, 60, 80], "title": "Temperature [°C]"}},
   "y": {"field": "f", "type": "quantitative", "scale": {"domain": [-0.2, 1.2], "nice": false, "zero": false}, "axis": {"values": [0, 0.4, 0.8, 1.2], "labels": false, "title": null}}
  },
  "layer": [
   {"transform": [{"filter": "datum.p==='E' && datum.d==='D'"}], "mark": {"type": "point", "shape": "diamond", "filled": false, "color": "#13965a", "size": 70, "strokeWidth": 1.5, "opacity": 1}},
   {"transform": [{"filter": "datum.p==='E' && datum.d==='L'"}], "mark": {"type": "point", "shape": "diamond", "filled": true, "color": "#13965a", "size": 70, "opacity": 1}},
   {"data": {"name": "fit"}, "transform": [{"filter": "datum.p==='E'"}], "mark": {"type": "line", "color": "#13965a", "strokeWidth": 1.2}, "encoding": {"detail": {"field": "d"}}},
   {"transform": [{"filter": "datum.p==='E' && datum.d==='L' && datum.t===26"}], "mark": {"type": "point", "shape": "diamond", "filled": true, "color": "#13965a", "size": 70, "opacity": 1}, "encoding": {"x": {"datum": 30}, "y": {"datum": 1.1}}},
   {"transform": [{"filter": "datum.p==='E' && datum.d==='L' && datum.t===26"}], "mark": {"type": "point", "shape": "diamond", "filled": false, "color": "#13965a", "size": 70, "strokeWidth": 1.5, "opacity": 1}, "encoding": {"x": {"datum": 30}, "y": {"datum": 0.94}}},
   {"transform": [{"filter": "datum.p==='E' && datum.d==='L' && datum.t===26"}], "mark": {"type": "text", "text": "LDAO", "align": "left", "baseline": "middle", "font": "Liberation Sans", "fontSize": 18, "color": "#222"}, "encoding": {"x": {"datum": 42}, "y": {"datum": 1.1}}},
   {"transform": [{"filter": "datum.p==='E' && datum.d==='L' && datum.t===26"}], "mark": {"type": "text", "text": "DDM", "align": "left", "baseline": "middle", "font": "Liberation Sans", "fontSize": 18, "color": "#222"}, "encoding": {"x": {"datum": 42}, "y": {"datum": 0.94}}},
   {"transform": [{"filter": "datum.p==='E' && datum.d==='L' && datum.t===26"}], "mark": {"type": "text", "text": "Δ¹⁻¹¹ C0", "align": "right", "baseline": "alphabetic", "font": "Liberation Sans", "fontSize": 19, "fontWeight": "bold", "color": "#111"}, "encoding": {"x": {"datum": 96}, "y": {"datum": -0.145}}}
  ]},
 {"width": 177, "height": 177, "data": {"name": "pts"},
  "encoding": {
   "x": {"field": "t", "type": "quantitative", "scale": {"domain": [20, 99], "nice": false, "zero": false}, "axis": {"values": [20, 40, 60, 80], "title": null}},
   "y": {"field": "f", "type": "quantitative", "scale": {"domain": [-0.2, 1.2], "nice": false, "zero": false}, "axis": {"values": [0, 0.4, 0.8, 1.2], "labels": false, "title": null}}
  },
  "layer": [
   {"transform": [{"filter": "datum.p==='F' && datum.d==='D'"}], "mark": {"type": "point", "shape": "triangle-down", "filled": false, "color": "#1f1fae", "size": 75, "strokeWidth": 1.5, "opacity": 1}},
   {"transform": [{"filter": "datum.p==='F' && datum.d==='L'"}], "mark": {"type": "point", "shape": "triangle-down", "filled": true, "color": "#1f1fae", "size": 75, "opacity": 1}},
   {"data": {"name": "fit"}, "transform": [{"filter": "datum.p==='F'"}], "mark": {"type": "line", "color": "#1f1fae", "strokeWidth": 1.2}, "encoding": {"detail": {"field": "d"}}},
   {"transform": [{"filter": "datum.p==='F' && datum.d==='L' && datum.t===26"}], "mark": {"type": "point", "shape": "triangle-down", "filled": true, "color": "#1f1fae", "size": 75, "opacity": 1}, "encoding": {"x": {"datum": 30}, "y": {"datum": 1.1}}},
   {"transform": [{"filter": "datum.p==='F' && datum.d==='L' && datum.t===26"}], "mark": {"type": "point", "shape": "triangle-down", "filled": false, "color": "#1f1fae", "size": 75, "strokeWidth": 1.5, "opacity": 1}, "encoding": {"x": {"datum": 30}, "y": {"datum": 0.94}}},
   {"transform": [{"filter": "datum.p==='F' && datum.d==='L' && datum.t===26"}], "mark": {"type": "text", "text": "LDAO", "align": "left", "baseline": "middle", "font": "Liberation Sans", "fontSize": 18, "color": "#222"}, "encoding": {"x": {"datum": 42}, "y": {"datum": 1.1}}},
   {"transform": [{"filter": "datum.p==='F' && datum.d==='L' && datum.t===26"}], "mark": {"type": "text", "text": "DDM", "align": "left", "baseline": "middle", "font": "Liberation Sans", "fontSize": 18, "color": "#222"}, "encoding": {"x": {"datum": 42}, "y": {"datum": 0.94}}},
   {"transform": [{"filter": "datum.p==='F' && datum.d==='L' && datum.t===26"}], "mark": {"type": "text", "text": "Δ¹⁻³² C0", "align": "right", "baseline": "alphabetic", "font": "Liberation Sans", "fontSize": 19, "fontWeight": "bold", "color": "#111"}, "encoding": {"x": {"datum": 96}, "y": {"datum": -0.145}}}
  ]}
]
}
